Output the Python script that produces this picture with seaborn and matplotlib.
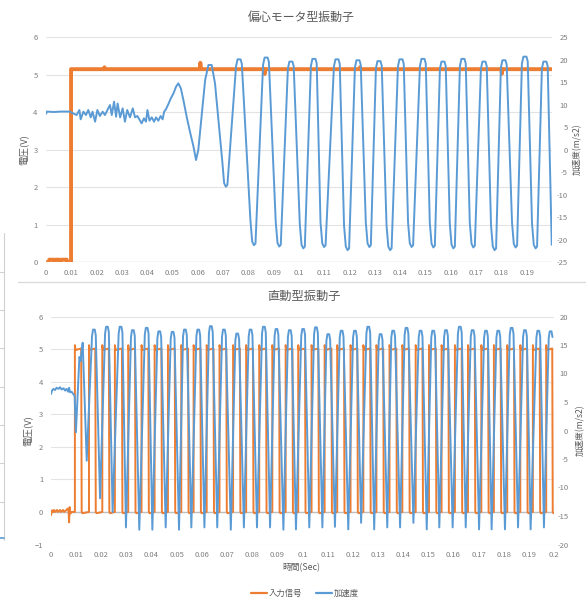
import matplotlib.pyplot as plt
import numpy as np
import pandas as pd
import seaborn as sns
from matplotlib.lines import Line2D

ORANGE = '#ED7D31'
BLUE = '#5B9BD5'
GRAY = '#595959'

# ---------------- data ----------------
# top chart (偏心モータ型振動子): input signal in V (left axis)
top_in_t = [0.0, 0.0012, 0.0013, 0.0030, 0.0031, 0.0036, 0.0037, 0.0052, 0.0053, 0.0058,
            0.0059, 0.0082, 0.0083, 0.0099, 0.0099, 0.0230, 0.0231, 0.0232, 0.0609, 0.0610,
            0.0612, 0.0862, 0.0864, 0.0866, 0.1240, 0.1241, 0.1242, 0.1800, 0.1802, 0.1804,
            0.1999]
top_in_v = [0, 0, 0.07, 0.07, 0, 0, 0.07, 0.07, 0, 0,
            0.07, 0.07, 0, 0, 5.15, 5.15, 5.2, 5.15, 5.15, 5.32,
            5.15, 5.15, 5.02, 5.15, 5.15, 5.2, 5.15, 5.15, 5.03, 5.15,
            5.15]

# top chart acceleration in m/s2 (right axis): noisy start, then cycles
top_acc_t = [0.0, 0.0004, 0.0030, 0.0060, 0.0095, 0.0101, 0.0121, 0.0132, 0.0137, 0.0148,
             0.0158, 0.0167, 0.0177, 0.0184, 0.0194, 0.0203, 0.0213, 0.0224, 0.0233, 0.0246,
             0.0253, 0.0260, 0.0269, 0.0277, 0.0283, 0.0293, 0.0303, 0.0312, 0.0321, 0.0332,
             0.0343, 0.0352, 0.0361, 0.0369, 0.0378, 0.0387, 0.0395, 0.0401, 0.0409, 0.0418,
             0.0427, 0.0435, 0.0444, 0.0453, 0.0461, 0.0467, 0.0474, 0.0484, 0.0493, 0.0504,
             0.0514, 0.0523, 0.0533, 0.0543, 0.0556, 0.0569, 0.0583, 0.0593, 0.0602, 0.0616,
             0.0629, 0.0642, 0.0655, 0.0668]
top_acc_v = [8.0, 8.5, 8.4, 8.5, 8.5, 8.25, 7.73, 8.84, 6.77, 8.47,
             7.73, 8.84, 7.21, 8.47, 6.25, 8.84, 7.51, 8.47, 7.73, 9.21,
             9.95, 7.73, 10.7, 7.36, 10.3, 7.21, 9.21, 6.25, 8.84, 7.21,
             9.21, 7.21, 7.51, 6.77, 5.88, 6.99, 6.25, 8.84, 6.47, 7.21,
             6.25, 7.21, 6.47, 7.51, 6.77, 8.47, 8.99, 10.2, 11.4, 12.55,
             14.03, 14.77, 13.66, 11.07, 7.36, 4.03, 0.70, -2.27, -0.04, 8.1,
             15.5, 18.84, 18.84, 14.77]
top_trough_t = [0.0711, 0.0822, 0.0922, 0.1017, 0.1099, 0.1192, 0.1278, 0.1360,
                0.1445, 0.1531, 0.1610, 0.1689, 0.1773, 0.1856, 0.1935]
top_trough_v = [-8.2, -21.2, -21.5, -21.9, -21.6, -22.3, -21.6, -22.3,
                -21.6, -21.7, -21.9, -21.7, -22.3, -21.7, -21.9]
top_peak_t = [0.0763, 0.0870, 0.0968, 0.1059, 0.1150, 0.1233, 0.1316, 0.1403,
              0.1490, 0.1569, 0.1648, 0.1731, 0.1810, 0.1893, 0.1972]
top_peak_v = [20.1, 20.5, 19.6, 20.2, 20.1, 19.9, 19.7, 20.1,
              20.2, 19.6, 20.2, 19.6, 19.9, 20.7, 19.6]
top_end = (0.1999, -21.1)

# bottom chart (直動型振動子): input signal in V (left axis)
bot_in_pre_t = [0.0, 0.0004, 0.0008, 0.0012, 0.0016, 0.0024, 0.0028, 0.0036, 0.0040, 0.0048,
                0.0052, 0.0060, 0.0066, 0.0070, 0.0072, 0.0074, 0.0077, 0.0082, 0.0095]
bot_in_pre_v = [-0.1, 0.05, 0.0, 0.06, 0.0, 0.06, 0.0, 0.06, 0.0, 0.06,
                0.0, 0.05, 0.1, 0.0, -0.32, 0.15, -0.05, 0.0, 0.0]
bot_rise = [0.0095, 0.0151, 0.0204, 0.0254, 0.0307, 0.0360, 0.0412, 0.0465, 0.0518, 0.0567,
            0.0619, 0.0670, 0.0724, 0.0776, 0.0828, 0.0880, 0.0933, 0.0983, 0.1036, 0.1088,
            0.1138, 0.1191, 0.1242, 0.1294, 0.1346, 0.1397, 0.1450, 0.1503, 0.1553, 0.1606,
            0.1658, 0.1711, 0.1761, 0.1814, 0.1866, 0.1916, 0.1969]
bot_fall = [0.0122, 0.0178, 0.0232, 0.0284, 0.0336, 0.0389, 0.0441, 0.0494, 0.0547, 0.0596,
            0.0648, 0.0699, 0.0753, 0.0805, 0.0857, 0.0909, 0.0962, 0.1012, 0.1065, 0.1117,
            0.1167, 0.1220, 0.1271, 0.1323, 0.1375, 0.1426, 0.1479, 0.1532, 0.1582, 0.1635,
            0.1687, 0.1740, 0.1790, 0.1843, 0.1895, 0.1945, 0.1995]
bot_high = 5.0

# bottom chart acceleration in m/s2 (right axis)
bot_acc_pre_t = [0.0, 0.0004, 0.0010, 0.0016, 0.0022, 0.0030, 0.0036, 0.0042, 0.0050, 0.0056,
                 0.0062, 0.0068, 0.0072, 0.0076, 0.0082, 0.0088, 0.0091, 0.0094, 0.0099, 0.0113,
                 0.0118, 0.0121, 0.0126, 0.0142]
bot_acc_pre_v = [6.4, 7.0, 7.3, 7.1, 7.5, 7.3, 7.6, 7.2, 7.4, 7.0,
                 7.3, 6.8, 7.5, 6.7, 6.8, 6.4, 6.3, 6.0, -0.3, 12.9,
                 12.2, 13.6, 15.4, -5.3]
bot_peak_t = [0.0171, 0.0223, 0.0277, 0.0326, 0.0381, 0.0431, 0.0484, 0.0533, 0.0586, 0.0636,
              0.0688, 0.0741, 0.0794, 0.0847, 0.0897, 0.0950, 0.1003, 0.1054, 0.1103, 0.1156,
              0.1209, 0.1262, 0.1311, 0.1361, 0.1414, 0.1470, 0.1520, 0.1571, 0.1626, 0.1677,
              0.1730, 0.1779, 0.1832, 0.1885, 0.1938, 0.1987]
bot_peak_v = [17.7, 18.2, 18.2, 17.6, 18.0, 17.4, 17.3, 17.7, 17.7, 18.3,
              17.7, 17.0, 17.7, 18.2, 17.8, 17.6, 17.8, 18.1, 16.9, 17.5,
              17.5, 18.2, 16.9, 17.5, 18.0, 17.5, 17.5, 17.6, 18.2, 17.6,
              17.5, 17.5, 18.0, 17.6, 17.5, 17.4]
bot_trough_t = [0.0195, 0.0245, 0.0298, 0.0351, 0.0403, 0.0456, 0.0509, 0.0558, 0.0610, 0.0661,
                0.0715, 0.0767, 0.0819, 0.0871, 0.0924, 0.0974, 0.1027, 0.1079, 0.1129, 0.1182,
                0.1233, 0.1285, 0.1337, 0.1388, 0.1441, 0.1494, 0.1544, 0.1597, 0.1649, 0.1702,
                0.1752, 0.1805, 0.1857, 0.1907, 0.1960]
bot_trough_v = [-11.9, -14.3, -17.0, -17.4, -17.4, -17.0, -17.4, -17.0, -17.0, -17.0,
                -17.4, -17.0, -17.0, -17.0, -17.4, -17.35, -17.0, -17.0, -16.9, -17.35,
                -16.2, -17.35, -17.0, -17.0, -16.2, -17.35, -17.0, -17.0, -17.0, -17.35,
                -17.35, -17.35, -17.0, -17.35, -17.0]

top_xticks = [round(0.01 * i, 2) for i in range(20)]
bot_xticks = [round(0.01 * i, 2) for i in range(21)]


# ---------------- build polylines ----------------
def top_peak(t, v):
    return [(t - 0.0012, v - 1.6), (t - 0.0006, v), (t + 0.0006, v), (t + 0.0011, v - 1.0)]


def top_trough(t, v):
    return [(t - 0.0014, v + 5.5), (t - 0.0007, v + 0.8), (t, v), (t + 0.0006, v + 0.4)]


def bot_peak(t, v):
    return [(t - 0.0008, v - 1.2), (t - 0.0004, v), (t + 0.0003, v), (t + 0.0007, v - 1.0)]


pts = list(zip(top_acc_t, top_acc_v))
for tt, tv, pt, pv in zip(top_trough_t, top_trough_v, top_peak_t, top_peak_v):
    pts += top_trough(tt, tv) + top_peak(pt, pv)
pts.append(top_end)
top_acc = pd.DataFrame(pts, columns=['t', 'v'])
top_in = pd.DataFrame({'t': top_in_t, 'v': top_in_v})

pts = list(zip(bot_in_pre_t, bot_in_pre_v))
for r, f in zip(bot_rise, bot_fall):
    pts += [(r, 0), (r, bot_high + 0.12), (r + 0.0003, bot_high - 0.03),
            (f - 0.0002, bot_high + 0.02), (f, 0), (f + 0.0003, -0.04)]
bot_in = pd.DataFrame(pts, columns=['t', 'v'])

pts = list(zip(bot_acc_pre_t, bot_acc_pre_v))
for i, (pt, pv) in enumerate(zip(bot_peak_t, bot_peak_v)):
    pts += bot_peak(pt, pv)
    if i < len(bot_trough_t):
        pts.append((bot_trough_t[i], bot_trough_v[i]))
bot_acc = pd.DataFrame(pts, columns=['t', 'v'])

# ---------------- drawing ----------------
sns.set_theme(style='white')
plt.rcParams['font.family'] = ['Noto Sans CJK JP', 'DejaVu Sans']

W, H = 586, 598
fig = plt.figure(figsize=(W / 100, H / 100), dpi=100)


def px(x0, y0, x1, y1):
    return [x0 / W, 1 - y1 / H, (x1 - x0) / W, (y1 - y0) / H]


def style(ax, ax2, xticks, ylims, yticks, y2lims, y2ticks, lpad, rpad, zero_col):
    ax.set_xlim(0, 0.2)
    ax.set_ylim(*ylims)
    ax.set_xticks(xticks)
    ax.set_xticklabels([f'{v:g}' for v in xticks])
    ax.set_yticks(yticks)
    ax2.set_ylim(*y2lims)
    ax2.set_yticks(y2ticks)
    ax2.set_yticklabels([str(v) for v in y2ticks])
    for lab in ax2.get_yticklabels():
        lab.set_horizontalalignment('right')
    ax.tick_params(axis='x', length=0, pad=5, labelsize=5.5, labelcolor='#7f7f7f')
    ax.tick_params(axis='y', length=0, pad=lpad, labelsize=5.5, labelcolor='#7f7f7f')
    ax2.tick_params(axis='y', length=0, pad=rpad, labelsize=5.5, labelcolor='#7f7f7f')
    ax.yaxis.grid(True, color='#e3e3e3', lw=0.8)
    ax.xaxis.grid(False)
    ax2.grid(False)
    ax.axhline(0, color=zero_col, lw=1.0, zorder=0.8)
    for a in (ax, ax2):
        for s in a.spines.values():
            s.set_visible(False)
        a.set_xlabel('')
        a.set_ylabel('')


# top chart
ax_t = fig.add_axes(px(46, 37.3, 552, 262.3))
ax_t2 = ax_t.twinx()
sns.lineplot(data=top_in, x='t', y='v', ax=ax_t, estimator=None, sort=False,
             color=ORANGE, lw=2.8)
sns.lineplot(data=top_acc, x='t', y='v', ax=ax_t2, estimator=None, sort=False,
             color=BLUE, lw=1.4)
style(ax_t, ax_t2, top_xticks, (0, 6), range(0, 7), (-25, 25), list(range(-25, 30, 5)),
      6, 11.5, '#d9d9d9')

# bottom chart
ax_b = fig.add_axes(px(51, 316.5, 554, 544.5))
ax_b2 = ax_b.twinx()
sns.lineplot(data=bot_in, x='t', y='v', ax=ax_b, estimator=None, sort=False,
             color=ORANGE, lw=1.4)
sns.lineplot(data=bot_acc, x='t', y='v', ax=ax_b2, estimator=None, sort=False,
             color=BLUE, lw=1.4)
style(ax_b, ax_b2, bot_xticks, (-1, 6), range(-1, 7), (-20, 20), list(range(-20, 25, 5)),
      5.5, 10.3, '#bfbfbf')

# titles and axis titles
fig.text(301 / W, 1 - 17 / H, '偏心モータ型振動子', ha='center', va='center', fontsize=8.6, color=GRAY)
fig.text(303.5 / W, 1 - 296 / H, '直動型振動子', ha='center', va='center', fontsize=8.8, color=GRAY)
fig.text(24 / W, 1 - 150 / H, '電圧(V)', rotation=90, ha='center', va='center', fontsize=6.8, color=GRAY)
fig.text(28 / W, 1 - 431 / H, '電圧(V)', rotation=90, ha='center', va='center', fontsize=6.8, color=GRAY)
fig.text(577 / W, 1 - 149 / H, '加速度(m/s2)', rotation=90, ha='center', va='center', fontsize=6.2, color=GRAY)
fig.text(580 / W, 1 - 430 / H, '加速度(m/s2)', rotation=90, ha='center', va='center', fontsize=6.2, color=GRAY)
fig.text(301 / W, 1 - 568 / H, '時間(Sec)', ha='center', va='center', fontsize=6.3, color=GRAY)

handles = [Line2D([], [], color=ORANGE, lw=1.6), Line2D([], [], color=BLUE, lw=1.6)]
leg = fig.legend(handles, ['入力信号', '加速度'], loc='center', bbox_to_anchor=(305 / W, 1 - 593 / H),
                 ncol=2, frameon=False, fontsize=6, handlelength=1.9, handletextpad=0.3,
                 columnspacing=1.6)
for txt in leg.get_texts():
    txt.set_color(GRAY)

# screenshot leftovers: separator line and edge of a neighbouring chart
fig.add_artist(Line2D([18 / W, 1], [1 - 281.7 / H] * 2, color='#d9d9d9', lw=0.9))
fig.add_artist(Line2D([3.5 / W] * 2, [1 - 233 / H, 1 - 540 / H], color='#d0d0d0', lw=0.8))
for y in [271.7, 310, 348.3, 386.7, 425, 463.3, 501.7]:
    fig.add_artist(Line2D([0, 3.5 / W], [1 - y / H] * 2, color='#d0d0d0', lw=0.8))
fig.add_artist(Line2D([0, 3.5 / W], [1 - 538 / H] * 2, color=BLUE, lw=1.2))

fig.savefig('out.png', dpi=100)
